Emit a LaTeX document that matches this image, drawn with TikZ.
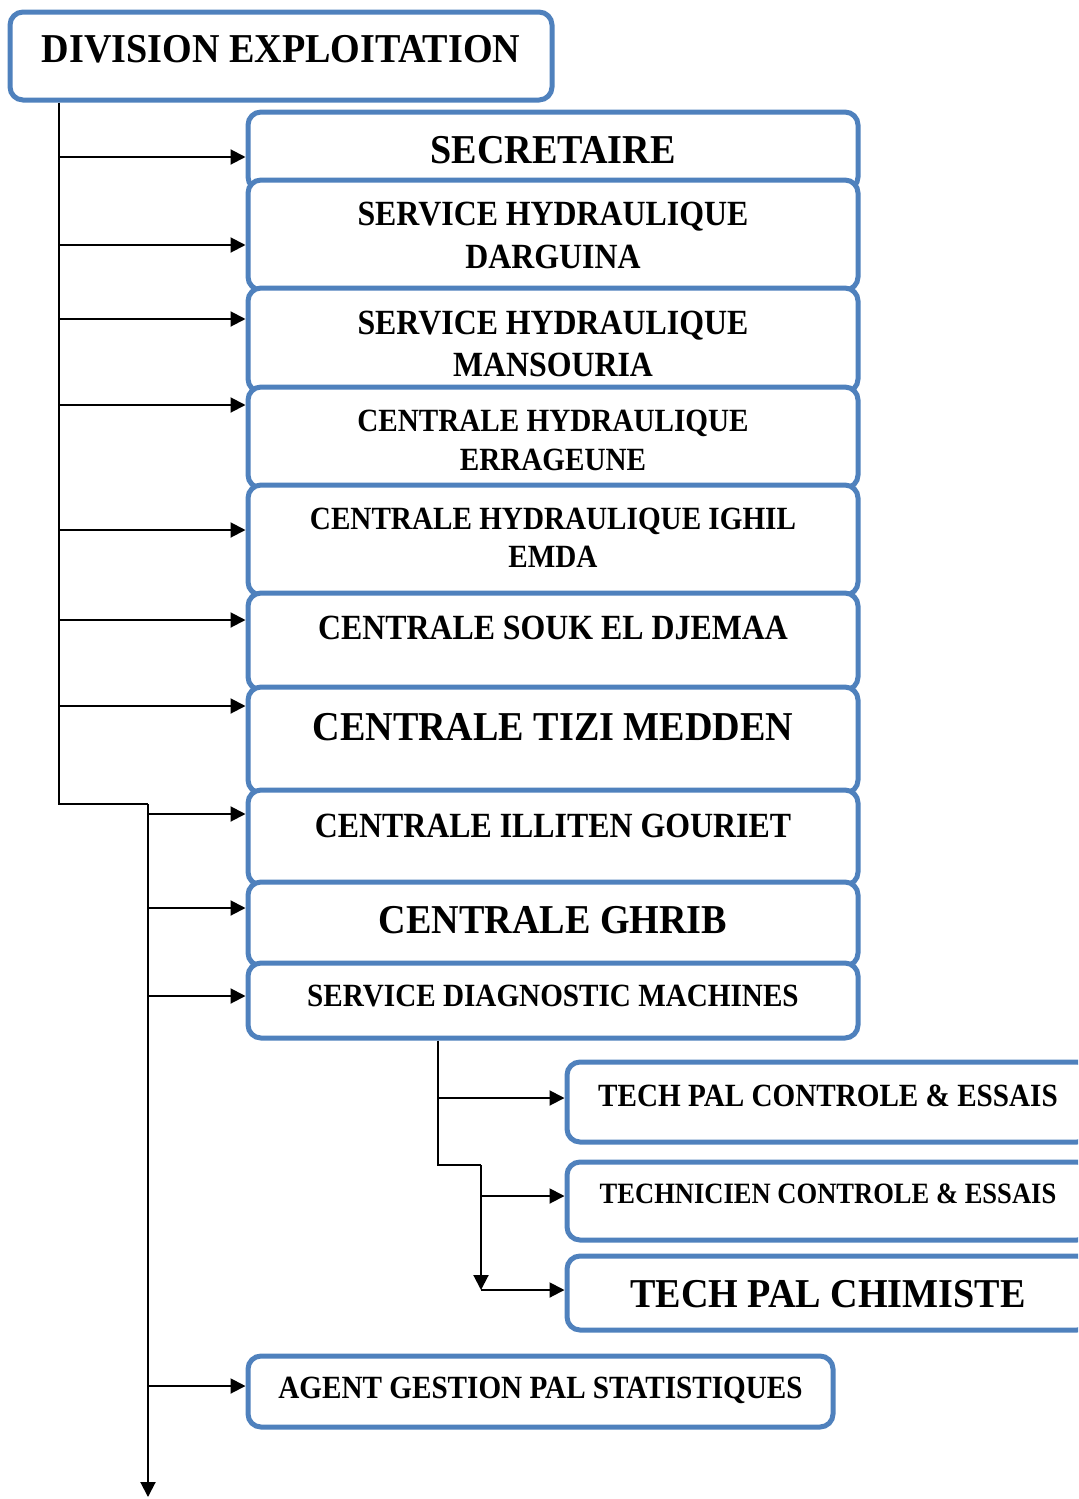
\documentclass[tikz,border=0pt]{standalone}
\usepackage{fontspec}
\setmainfont{Liberation Serif}[FakeStretch=0.9]
\newfontfamily\widerface{Liberation Serif}[FakeStretch=0.93]
\usetikzlibrary{arrows.meta,fit}
\definecolor{boxblue}{RGB}{79,129,189}
\tikzset{
  orgbox/.style={draw=boxblue, line width=2.5pt, rounded corners=6.5pt, fill=white, inner sep=0pt},
  lbig/.style={anchor=base, inner sep=0pt, font=\widerface\fontsize{20.5}{24}\selectfont\bfseries},
  lmid/.style={anchor=base, inner sep=0pt, font=\fontsize{17.7}{21}\selectfont\bfseries},
  lsmall/.style={anchor=base, inner sep=0pt, font=\fontsize{16.2}{19}\selectfont\bfseries},
  lxs/.style={anchor=base, inner sep=0pt, font=\fontsize{14.75}{18}\selectfont\bfseries},
  wire/.style={line width=1pt},
  link/.style={line width=1pt, -{Triangle[length=7.5pt,width=7.5pt]}},
}
\begin{document}
\begin{tikzpicture}[x=0.5pt, y=-0.5pt]
\useasboundingbox (0,0) rectangle (1078,1499);
\clip (0,0) rectangle (1078,1499);

% head of the division
\node[orgbox, fit={(10,12)(552,100)}] (div) {};
\node[lbig] (div-t) at (281,62.5) {DIVISION EXPLOITATION};

% units, stacked top to bottom
\node[orgbox, fit={(248,112)(858,190)}] (sec) {};
\node[lbig] (sec-t) at (553,163.5) {SECRETAIRE};

\node[orgbox, fit={(248,180)(858,290)}] (darg) {};
\node[lmid] (darg-a) at (553,225.7) {SERVICE HYDRAULIQUE};
\node[lmid] (darg-b) at (553,268.7) {DARGUINA};

\node[orgbox, fit={(248,288)(858,392)}] (mans) {};
\node[lmid] (mans-a) at (553,334.7) {SERVICE HYDRAULIQUE};
\node[lmid] (mans-b) at (553,376.7) {MANSOURIA};

\node[orgbox, fit={(248,387)(858,488)}] (erra) {};
\node[lsmall] (erra-a) at (553,431.7) {CENTRALE HYDRAULIQUE};
\node[lsmall] (erra-b) at (553,470.7) {ERRAGEUNE};

\node[orgbox, fit={(248,485)(858,595)}] (ighil) {};
\node[lsmall] (ighil-a) at (553,529.7) {CENTRALE HYDRAULIQUE IGHIL};
\node[lsmall] (ighil-b) at (553,567.7) {EMDA};

\node[orgbox, fit={(248,593)(858,690)}] (souk) {};
\node[lmid] (souk-t) at (553,639.7) {CENTRALE SOUK EL DJEMAA};

\node[orgbox, fit={(248,687)(858,793)}] (tizi) {};
\node[lbig] (tizi-t) at (553,740.5) {CENTRALE TIZI MEDDEN};

\node[orgbox, fit={(248,790)(858,885)}] (illi) {};
\node[lmid] (illi-t) at (553,837.7) {CENTRALE ILLITEN GOURIET};

\node[orgbox, fit={(248,882)(858,966)}] (ghrib) {};
\node[lbig] (ghrib-t) at (553,933.5) {CENTRALE GHRIB};

\node[orgbox, fit={(248,963)(858,1038)}] (diag) {};
\node[lsmall] (diag-t) at (553,1006.7) {SERVICE DIAGNOSTIC MACHINES};

% diagnostic team
\node[orgbox, fit={(567,1062)(1090,1142)}] (tpce) {};
\node[lsmall] (tpce-t) at (828,1106.7) {TECH PAL CONTROLE \& ESSAIS};

\node[orgbox, fit={(567,1162)(1090,1240)}] (tce) {};
\node[lxs] (tce-t) at (828,1203.8) {TECHNICIEN CONTROLE \& ESSAIS};

\node[orgbox, fit={(567,1256)(1090,1330)}] (tpc) {};
\node[lbig] (tpc-t) at (828,1307.5) {TECH PAL CHIMISTE};

\node[orgbox, fit={(248,1356)(833,1427)}] (agent) {};
\node[lsmall] (agent-t) at (540.5,1398.7) {AGENT GESTION PAL STATISTIQUES};

% main trunk
\coordinate (ta) at (59,804);
\coordinate (tb) at (148,804);
\coordinate (tend) at (148,1497);
\draw[wire] (div.south -| ta) -- (ta) -- (tb);
\draw[link] (tb) -- (tend);

\foreach \n/\y in {sec/157, darg/245, mans/319, erra/405, ighil/530, souk/620, tizi/706}
  \draw[link] (ta |- 0,\y) -- (\n.west |- 0,\y);
\foreach \n/\y in {illi/814, ghrib/908, diag/996, agent/1386}
  \draw[link] (tb |- 0,\y) -- (\n.west |- 0,\y);

% diagnostic branch
\coordinate (sa) at (438,1165);
\coordinate (sb) at (481,1165);
\coordinate (sc) at (481,1290);
\draw[wire] (diag.south -| sa) -- (sa) -- (sb);
\draw[link] (sb) -- (sc);
\draw[link] (sa |- 0,1098) -- (tpce.west |- 0,1098);
\draw[link] (sb |- 0,1196) -- (tce.west |- 0,1196);
\draw[link] (sc) -- (tpc.west |- sc);
\end{tikzpicture}
\end{document}
